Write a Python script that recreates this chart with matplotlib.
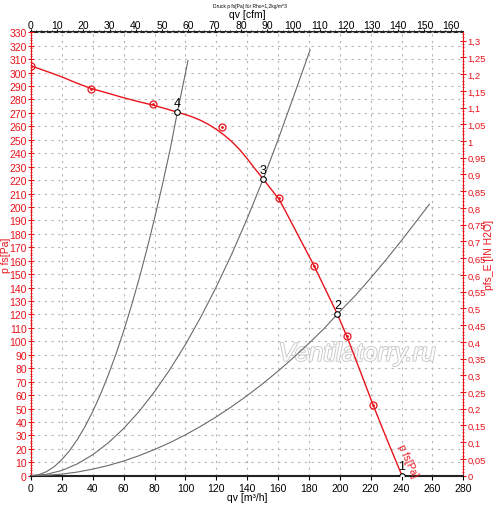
import matplotlib
matplotlib.use("Agg")
import matplotlib.pyplot as plt
import matplotlib.patheffects as pe
from matplotlib.ticker import MultipleLocator, FuncFormatter

plt.rcParams['font.family'] = ['Liberation Sans', 'DejaVu Sans']

RED = '#e8141c'
GRAY = '#6a6a6a'

# Fan curve p_fs [Pa] vs qv [m3/h]
fan_q = [0, 10, 20, 30, 39, 50, 60, 70, 79, 87, 95, 100, 105, 110, 115, 120, 125, 130,
         135, 140, 145, 150.4, 155, 160.6, 165, 170, 175, 180, 183.3, 190, 198.4, 204.9,
         212, 221.3, 230, 240.3]
fan_p = [305, 301, 296.8, 292, 288.2, 284.6, 281.3, 278.3, 275.8, 273.2, 270.5, 268.8,
         266.8, 264.4, 261.4, 257.8, 253.6, 248.7, 242.9, 236, 228.5, 220.8, 214, 205.8,
         196.5, 185.5, 174.5, 163.6, 156.3, 140.3, 120.3, 102.8, 81.5, 53.5, 28.5, 0]

# measured points (circles)
meas_q = [0, 39, 79, 123.5, 160.6, 183.3, 204.9, 221.3]
meas_p = [305, 287.8, 276.4, 259.3, 206.7, 156.3, 104, 52.6]

# operating points
op_q = [240.3, 198.4, 150.4, 94.8]
op_p = [0, 120.3, 220.8, 270.5]
op_lbl = ['1', '2', '3', '4']

# system curves
sys1_q = [0, 5, 10, 15, 20, 25, 30, 35, 40, 45, 50, 55, 60, 65, 70, 75, 80, 85, 90, 94.8, 101.7]
sys1_p = [0, 0.7, 3, 6.7, 12, 18.7, 26.9, 36.6, 47.8, 60.5, 74.8, 90.4, 107.6, 126.3, 146.5,
          168.2, 191.4, 216, 242.2, 270.5, 309]
sys2_q = [0, 10, 20, 30, 40, 50, 60, 70, 80, 90, 100, 110, 120, 130, 140, 150.4, 160, 170, 180.8]
sys2_p = [0, 1, 3.9, 8.8, 15.6, 24.4, 35.1, 47.8, 62.5, 79.1, 97.6, 118.1, 140.5, 164.9,
          191.3, 220.8, 250, 282, 317]
sys3_q = [0, 10, 20, 30, 40, 50, 60, 70, 80, 90, 100, 110, 120, 130, 140, 150, 160, 170,
          180, 190, 198.4, 210, 220, 230, 240, 250, 258]
sys3_p = [0, 0.3, 1.2, 2.7, 4.9, 7.6, 10.9, 14.9, 19.5, 24.6, 30.4, 36.8, 43.8, 51.4, 59.6,
          68.4, 77.8, 87.9, 98.5, 109.7, 120.3, 134, 147.1, 160.8, 175.1, 190, 202]

fig = plt.figure(figsize=(5, 5.1), dpi=100)
ax = fig.add_axes([0.062, 0.0653, 0.8646, 0.8694])

ax.set_xlim(0, 280)
ax.set_ylim(0, 330)

for q, p in [(sys1_q, sys1_p), (sys2_q, sys2_p), (sys3_q, sys3_p)]:
    ax.plot(q, p, color=GRAY, lw=0.8, zorder=3)

ax.plot(fan_q, fan_p, color=RED, lw=1.0, zorder=4)
ax.plot(meas_q, meas_p, 'o', ms=5, mfc='none', mec=RED, mew=0.9, zorder=5)
ax.plot(meas_q, meas_p, '.', ms=2, color=RED, zorder=5)
ax.plot(op_q, op_p, 'o', ms=4, mfc='white', mec='black', mew=0.8, zorder=6)
for q, p, l in zip(op_q, op_p, op_lbl):
    ax.text(q, p + 2.5, l, fontsize=9, ha='center', va='bottom', color='black', zorder=7)

ax.text(236.5, 22, 'p fs[Pa]', color=RED, fontsize=7.5, rotation=-66,
        rotation_mode='anchor', ha='left', va='bottom', zorder=7)

ax.text(0.755, 0.275, 'Ventilatorry.ru', transform=ax.transAxes, fontsize=18.5,
        style='italic', color='white', ha='center', va='center', zorder=2,
        path_effects=[pe.withStroke(linewidth=1.3, foreground='#c8c8c8')])

# grid
ax.xaxis.set_major_locator(MultipleLocator(20))
ax.yaxis.set_major_locator(MultipleLocator(10))
ax.yaxis.set_minor_locator(MultipleLocator(2))
ax.grid(True, which='major', color='#b5b5b5', ls=(0, (2, 4)), lw=0.8)

ax.tick_params(axis='x', labelsize=7.5, colors='black', length=3, direction='out', pad=2)
ax.tick_params(axis='y', which='major', labelsize=7.5, colors=RED, length=4, direction='inout', pad=1)
ax.tick_params(axis='y', which='minor', colors=RED, length=2, direction='inout')

ax.spines['left'].set_color(RED)
ax.spines['bottom'].set_color('#222222')
ax.spines['bottom'].set_linewidth(1.5)
ax.spines['top'].set_visible(False)
ax.spines['right'].set_visible(False)

ax.set_xlabel('qv [m³/h]', fontsize=7.5)
ax.xaxis.set_label_coords(0.5, -0.037)
ax.set_ylabel('p fs[Pa]', fontsize=7.5, color=RED)
ax.yaxis.set_label_coords(-0.046, 0.5)

# top axis cfm
CFM = 1.69901
top = ax.secondary_xaxis('top', functions=(lambda x: x / CFM, lambda x: x * CFM))
top.xaxis.set_major_locator(MultipleLocator(10))
top.xaxis.set_minor_locator(MultipleLocator(2))
top.tick_params(which='major', labelsize=7.5, length=2, direction='out', pad=0)
top.tick_params(which='minor', length=1.2, direction='out')
top.spines['top'].set_color('#222222')
top.spines['top'].set_linewidth(1.5)
ax.text(0.5, 1.041, 'qv [cfm]', transform=ax.transAxes, fontsize=7.5,
        ha='center', va='center')

# right axis in H2O
INH2O = 249.089
right = ax.secondary_yaxis('right', functions=(lambda y: y / INH2O, lambda y: y * INH2O))
right.yaxis.set_major_locator(MultipleLocator(0.05))
right.yaxis.set_minor_locator(MultipleLocator(0.01))

def fmt(v, pos):
    s = ('%.2f' % v).rstrip('0').rstrip('.')
    return s.replace('.', ',')

right.yaxis.set_major_formatter(FuncFormatter(fmt))
right.tick_params(which='major', labelsize=6.8, colors=RED, length=4, direction='inout', pad=1)
right.tick_params(which='minor', colors=RED, length=2, direction='inout')
right.spines['right'].set_color(RED)
ax.text(1.06, 0.5, 'pfs_E [IN H2O]', transform=ax.transAxes, fontsize=7.5,
        color=RED, rotation=90, ha='center', va='center')

fig.text(0.5, 0.988, 'Druck p fs[Pa] für Rho=1,2kg/m^3', fontsize=3.5, ha='center', va='center')

fig.savefig('out.png', dpi=100, facecolor='white')
